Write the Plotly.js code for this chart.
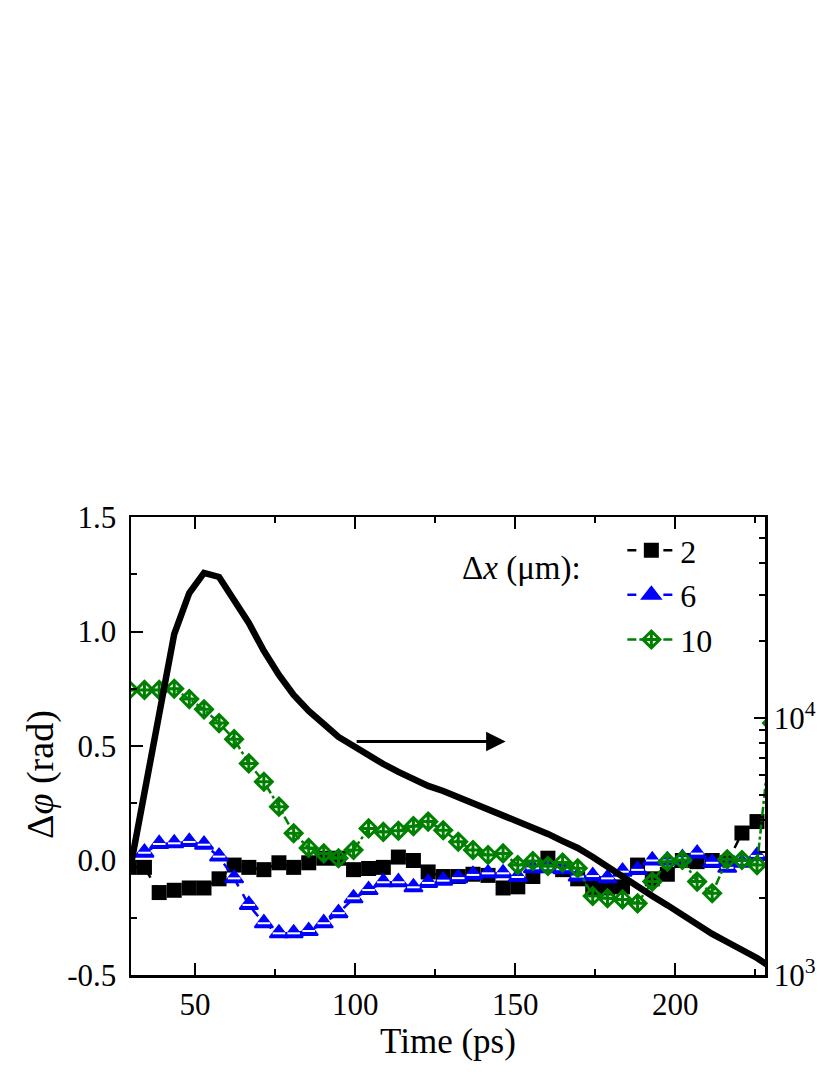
<!DOCTYPE html>
<html>
<head>
<meta charset="utf-8">
<script src="https://cdn.plot.ly/plotly-3.0.1.min.js"></script>
<style>
  html, body { margin: 0; padding: 0; background: #fff; }
  #chart { width: 830px; height: 1075px; }
</style>
</head>
<body>
<div id="chart"></div>
<script>
// Time axis (ps)
const time = [29.5, 34.2, 38.8, 43.5, 48.2, 52.8, 57.5, 62.2, 66.8, 71.5, 76.2, 80.8, 85.5, 90.2, 94.8,
  99.5, 104.2, 108.8, 113.5, 118.2, 122.8, 127.5, 132.2, 136.8, 141.5, 146.2, 150.8, 155.5, 160.2,
  164.8, 169.5, 174.2, 178.8, 183.5, 188.2, 192.8, 197.5, 202.2, 206.8, 211.5, 216.2, 220.8, 225.5, 230.2];

// Delta phi (rad) for dx = 2 um
const dphi2 = [-0.03, -0.03, -0.14, -0.13, -0.12, -0.12, -0.08, -0.02, -0.03, -0.04, -0.01, -0.03, -0.01,
  0.01, 0.01, -0.04, -0.035, -0.03, 0.015, 0.0, -0.05, -0.07, -0.07, -0.06, -0.065, -0.12, -0.115, -0.07,
  0.01, -0.04, -0.08, -0.12, -0.12, -0.115, -0.02, -0.08, -0.06, 0.0, -0.005, 0.0, -0.01, 0.12, 0.17, null];

// Delta phi (rad) for dx = 6 um
const dphi6 = [null, 0.034, 0.072, 0.075, 0.081, 0.069, 0.017, -0.078, -0.194, -0.274, -0.318, -0.318, -0.308,
  -0.274, -0.23, -0.165, -0.129, -0.095, -0.095, -0.117, -0.098, -0.088, -0.077, -0.063, -0.056, -0.056,
  -0.072, -0.034, -0.034, -0.038, -0.07, -0.068, -0.078, -0.049, -0.041, 0.0, 0.0, 0.01, 0.03, -0.01,
  -0.032, -0.01, 0.02, null];

// Delta phi (rad) for dx = 10 um
const dphi10 = [0.745, 0.745, 0.745, 0.75, 0.705, 0.66, 0.6, 0.53, 0.424, 0.344, 0.235, 0.119, 0.055, 0.031,
  0.01, 0.046, 0.14, 0.125, 0.13, 0.15, 0.17, 0.132, 0.082, 0.046, 0.024, 0.031, -0.02, -0.002, -0.024,
  -0.009, -0.034, -0.155, -0.165, -0.17, -0.187, -0.092, -0.005, 0.002, -0.092, -0.143, 0.005, 0.002,
  -0.02, 0.6];

// Right-axis (log) curve
const rightCurve = [2494, 5200, 10940, 21220, 30640, 36670, 35370, 28790, 23420, 18230, 14700, 12290, 10650,
  9480, 8440, 7780, 7110, 6620, 6170, 5790, 5440, 5200, 4930, 4630, 4390, 4160, 3940, 3730, 3540, 3320,
  3120, 2880, 2630, 2410, 2200, 2030, 1870, 1710, 1565, 1444, 1344, 1262, 1165, 1065];

// Tick labels
const leftTickVals = [-0.5, 0.0, 0.5, 1.0, 1.5];
const leftTickText = ['-0.5', '0.0', '0.5', '1.0', '1.5'];
const xTickVals = [50, 100, 150, 200];
const xTickText = ['50', '100', '150', '200'];
const rightTickVals = [1000, 10000];
const rightTickText = ['10<sup>3</sup>', '10<sup>4</sup>'];
const rightMinorVals = [2000, 3000, 4000, 5000, 6000, 7000, 8000, 9000, 20000, 30000, 40000, 50000];
const seriesNames = ['2', '6', '10'];

const FONT = 'Liberation Serif';

function f(size) { return { family: FONT, size: size, color: '#000000' }; }

const traces = [
  {
    x: time, y: dphi2, name: seriesNames[0], legendgroup: 'a',
    mode: 'lines+markers', type: 'scatter',
    line: { color: '#000000', width: 2.5, dash: 'dash' },
    marker: { symbol: 'square', size: 15, color: '#000000' }
  },
  {
    x: time, y: dphi6, name: seriesNames[1], legendgroup: 'b',
    mode: 'lines+markers', type: 'scatter',
    line: { color: '#0000FF', width: 2.5, dash: 'dash' },
    marker: { symbol: 'triangle-up', size: 16, color: '#0000FF', line: { width: 2, color: '#0000FF' } }
  },
  {
    x: time, y: dphi6, showlegend: false, legendgroup: 'b', hoverinfo: 'skip',
    mode: 'markers', type: 'scatter',
    marker: { symbol: 'line-ew', size: 9, color: '#FFFFFF', line: { width: 2, color: '#FFFFFF' } }
  },
  {
    x: time, y: dphi10, name: seriesNames[2], legendgroup: 'c',
    mode: 'lines+markers', type: 'scatter',
    line: { color: '#008000', width: 2.5, dash: 'dashdot' },
    marker: { symbol: 'diamond-cross-open', size: 13, color: '#008000', line: { width: 3, color: '#008000' } }
  },
  {
    x: time, y: rightCurve, yaxis: 'y2', showlegend: false,
    mode: 'lines', type: 'scatter',
    line: { color: '#000000', width: 6.5 }
  }
];

const layout = {
  width: 830, height: 1075,
  margin: { l: 131, r: 65, t: 517, b: 100 },
  paper_bgcolor: '#ffffff', plot_bgcolor: '#ffffff',
  showlegend: true,
  font: f(30),
  xaxis: {
    range: [30, 228], showgrid: false, zeroline: false,
    showline: true, linecolor: '#000', linewidth: 2.5, mirror: 'ticks',
    ticks: 'inside', ticklen: 12, tickwidth: 2, tickcolor: '#000',
    tickmode: 'array', tickvals: xTickVals, ticktext: xTickText,
    tickfont: f(31),
    minor: { dtick: 25, tick0: 0, ticks: 'inside', ticklen: 6, tickwidth: 2, tickcolor: '#000', showgrid: false },
    title: { text: 'Time (ps)', font: f(35), standoff: 2 }
  },
  yaxis: {
    range: [-0.5, 1.5], showgrid: false, zeroline: false,
    showline: true, linecolor: '#000', linewidth: 2.5, mirror: false,
    ticks: 'inside', ticklen: 12, tickwidth: 2, tickcolor: '#000',
    tickmode: 'array', tickvals: leftTickVals, ticktext: leftTickText,
    tickfont: f(31), ticklabelstandoff: 6,
    minor: { dtick: 0.25, tick0: 0, ticks: 'inside', ticklen: 6, tickwidth: 2, tickcolor: '#000', showgrid: false }
  },
  yaxis2: {
    type: 'log', range: [3, 4.782], overlaying: 'y', side: 'right', anchor: 'x',
    showgrid: false, zeroline: false,
    showline: true, linecolor: '#000', linewidth: 2.5,
    ticks: 'inside', ticklen: 11, tickwidth: 2, tickcolor: '#000',
    tickmode: 'array', tickvals: rightTickVals, ticktext: rightTickText,
    tickfont: f(31),
    minor: { tickmode: 'array', tickvals: rightMinorVals, ticks: 'inside', ticklen: 6, tickwidth: 2, tickcolor: '#000', showgrid: false }
  },
  legend: {
    x: 0.775, y: 0.987, xanchor: 'left', yanchor: 'top',
    bgcolor: 'rgba(0,0,0,0)', borderwidth: 0,
    font: f(32),
    itemwidth: 48, tracegroupgap: 0
  },
  annotations: [
    {
      text: 'Δ<i>φ</i> (rad)', xref: 'paper', yref: 'paper', textangle: -90,
      x: -(131 - 40) / 634, y: 1 - (775 - 517) / 458, xanchor: 'center', yanchor: 'middle',
      showarrow: false, font: f(38)
    },
    {
      text: 'Δ<i>x</i> (μm):', xref: 'paper', yref: 'paper',
      x: (521 - 131) / 634, y: 1 - (568 - 517) / 458, xanchor: 'center', yanchor: 'middle',
      showarrow: false, font: f(33)
    },
    {
      text: '', x: 147, y: 0.52, ax: 100, ay: 0.52, xref: 'x', yref: 'y', axref: 'x', ayref: 'y',
      showarrow: true, arrowhead: 2, arrowsize: 1.3, arrowwidth: 3, arrowcolor: '#000'
    }
  ]
};

Plotly.newPlot('chart', traces, layout, { staticPlot: true, displayModeBar: false });
</script>
</body>
</html>
